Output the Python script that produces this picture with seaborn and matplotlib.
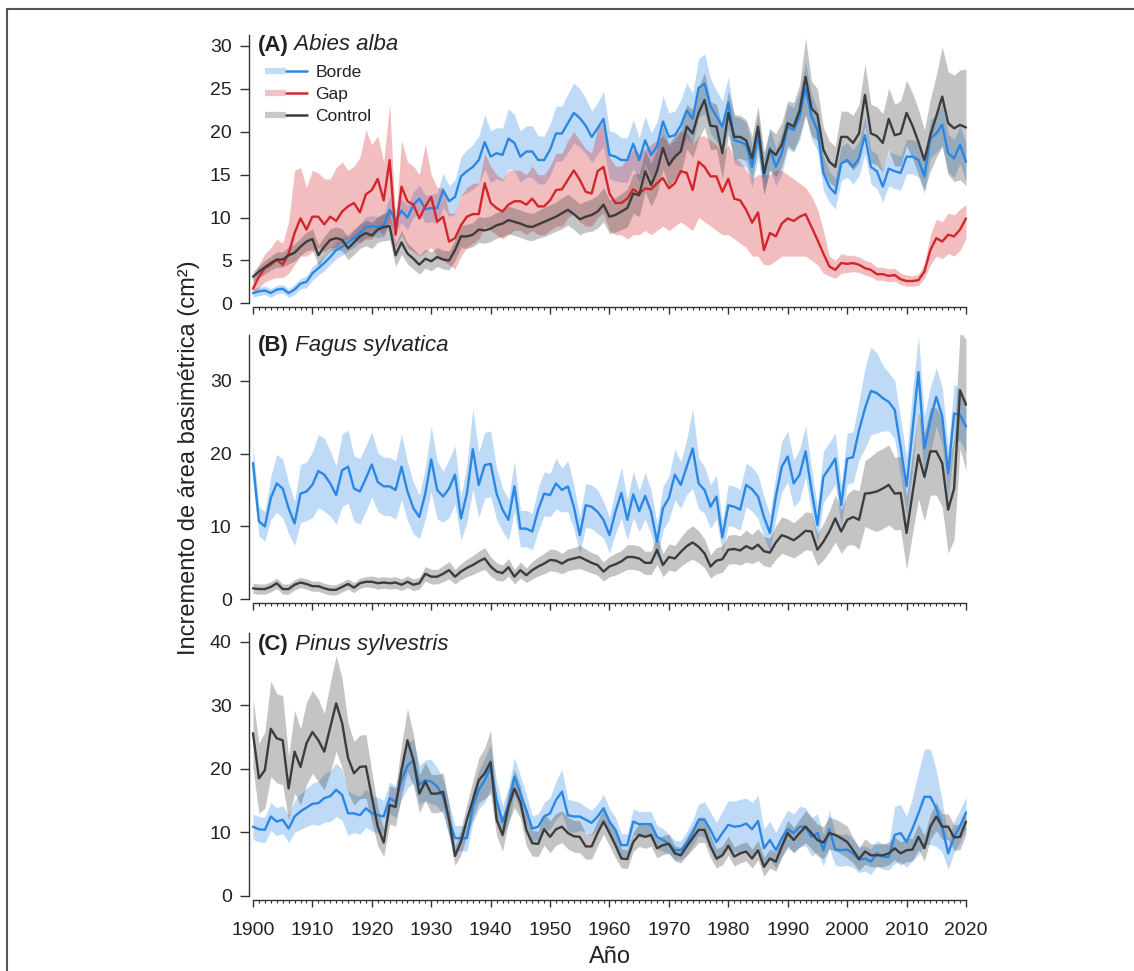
import numpy as np
import matplotlib
matplotlib.use("Agg")
import matplotlib.pyplot as plt
from matplotlib.lines import Line2D
from matplotlib.ticker import MultipleLocator
from matplotlib.legend_handler import HandlerTuple
import seaborn as sns

years = list(range(1900, 2021))

# ---------------- Panel A: Abies alba ----------------
A_borde = [1.2, 1.4, 1.5, 1.2, 1.6, 1.7, 1.2, 1.6, 2.3, 2.5,
           3.5, 4.1, 4.7, 5.4, 6.2, 6.6, 7.1, 7.6, 8.2, 8.9,
           9.0, 8.9, 9.1, 10.9, 9.6, 10.8, 10.0, 11.5, 12.2, 11.0,
           11.1, 11.1, 13.2, 11.9, 12.4, 14.8, 15.4, 15.9, 16.7, 18.8,
           17.1, 17.5, 17.3, 19.2, 18.7, 17.1, 17.7, 17.7, 16.7, 16.7,
           17.9, 19.8, 19.8, 21.0, 22.2, 21.6, 20.7, 19.4, 20.4, 21.5,
           17.3, 17.1, 16.7, 16.7, 18.6, 16.7, 19.0, 17.3, 18.3, 21.2,
           19.4, 19.6, 20.7, 22.5, 21.5, 25.1, 25.6, 23.0, 21.8, 20.6,
           23.4, 19.0, 18.8, 18.5, 15.9, 19.6, 14.8, 18.1, 15.9, 17.5,
           20.6, 20.2, 21.8, 25.1, 21.8, 20.2, 15.2, 13.6, 12.8, 16.3,
           16.7, 15.9, 16.9, 19.6, 15.9, 15.4, 13.6, 15.7, 15.4, 15.2,
           17.1, 17.1, 16.7, 14.8, 19.2, 19.8, 20.8, 17.5, 16.9, 18.5,
           16.5]
A_borde_hw = [0.5, 0.5, 0.5, 0.5, 0.5, 0.5, 0.5, 0.6, 0.6, 0.7,
              0.8, 0.8, 0.9, 0.9, 1.0, 1.0, 1.0, 1.1, 1.1, 1.2,
              1.2, 1.2, 1.3, 1.5, 1.3, 1.4, 1.4, 1.5, 1.6, 1.6,
              1.6, 1.8, 2.0, 1.8, 2.0, 2.3, 2.5, 2.6, 2.8, 3.2,
              3.0, 3.0, 3.1, 3.5, 3.3, 3.0, 3.0, 3.0, 2.8, 2.8,
              3.0, 3.2, 3.2, 3.4, 3.5, 3.4, 3.2, 3.0, 3.0, 3.2,
              2.8, 2.8, 2.6, 2.6, 2.8, 2.6, 2.8, 2.6, 2.8, 3.0,
              2.8, 2.8, 3.0, 3.2, 3.0, 3.4, 3.5, 3.2, 3.0, 3.0,
              3.0, 2.8, 2.8, 2.6, 2.4, 2.6, 2.2, 2.4, 2.2, 2.4,
              2.6, 2.6, 2.8, 3.0, 2.6, 2.4, 2.0, 1.8, 1.8, 2.0,
              2.0, 2.0, 2.0, 2.2, 2.0, 2.0, 1.8, 2.0, 2.0, 2.0,
              2.0, 2.0, 2.0, 2.0, 2.2, 2.2, 2.4, 2.2, 2.2, 2.2,
              2.2]

A_gap = [1.7, 3.1, 4.1, 4.5, 5.1, 4.5, 5.8, 8.2, 9.9, 8.6,
         10.1, 10.1, 9.2, 10.1, 9.6, 10.7, 11.3, 11.7, 10.6, 12.7,
         13.2, 14.5, 12.0, 16.7, 8.0, 13.6, 11.9, 11.5, 9.9, 11.3,
         12.4, 9.5, 10.1, 7.2, 7.6, 9.1, 10.1, 10.4, 10.4, 14.0,
         11.7, 11.1, 10.7, 11.5, 11.9, 11.9, 11.5, 12.2, 11.3, 11.3,
         12.0, 13.2, 13.3, 14.4, 15.5, 14.4, 13.0, 12.8, 15.4, 15.9,
         12.8, 11.7, 11.7, 12.2, 13.3, 12.8, 13.4, 13.3, 14.0, 14.6,
         13.4, 14.0, 15.4, 15.2, 13.2, 16.5, 15.9, 14.8, 14.8, 13.0,
         14.5, 12.2, 12.0, 10.9, 9.4, 10.6, 6.2, 8.2, 7.8, 9.3,
         9.9, 9.6, 10.1, 10.4, 8.9, 7.4, 5.8, 4.3, 3.9, 4.7,
         4.6, 4.7, 4.5, 4.1, 3.9, 3.4, 3.4, 3.2, 3.3, 2.8,
         2.6, 2.6, 2.7, 3.7, 6.2, 7.6, 7.2, 8.0, 7.8, 8.6,
         9.9]
A_gap_lo = [1.0, 1.8, 2.5, 2.8, 3.0, 3.0, 3.5, 4.5, 5.5, 5.5,
            6.0, 6.5, 6.0, 6.5, 6.5, 7.0, 7.5, 7.5, 7.0, 7.5,
            7.5, 8.5, 8.0, 9.5, 6.5, 8.0, 6.5, 6.0, 5.5, 6.0,
            6.5, 5.5, 5.0, 4.5, 4.0, 5.5, 6.5, 7.0, 7.5, 9.0,
            8.5, 8.0, 7.5, 8.0, 8.5, 8.5, 8.0, 8.5, 8.0, 8.0,
            8.5, 9.0, 9.0, 10.0, 10.5, 9.5, 9.0, 9.0, 10.0, 10.5,
            8.5, 8.0, 8.0, 7.5, 8.0, 8.0, 8.5, 8.0, 8.5, 9.0,
            8.5, 9.0, 9.5, 9.0, 8.5, 10.0, 9.5, 9.0, 8.5, 8.0,
            8.0, 7.5, 7.0, 6.5, 5.5, 5.5, 4.5, 4.5, 5.0, 5.5,
            5.5, 5.5, 5.5, 5.5, 5.0, 4.5, 3.5, 3.2, 2.9, 3.5,
            3.6, 3.7, 3.6, 3.3, 3.1, 2.7, 2.7, 2.5, 2.6, 2.2,
            2.0, 2.0, 2.1, 2.9, 4.5, 5.5, 5.2, 5.8, 5.5, 6.2,
            7.5]
A_gap_hi = [3.0, 4.5, 5.8, 6.5, 7.5, 7.0, 9.5, 15.5, 15.8, 13.5,
            15.5, 15.2, 14.5, 14.5, 15.8, 16.5, 15.5, 16.0, 17.0, 20.2,
            18.5, 19.5, 16.5, 23.3, 9.5, 19.0, 16.5, 16.0, 15.0, 18.5,
            15.0, 13.5, 13.5, 10.5, 10.5, 12.5, 13.5, 14.0, 14.0, 17.5,
            16.0, 15.0, 14.5, 15.5, 15.5, 15.5, 15.0, 16.0, 15.0, 15.0,
            16.0, 17.5, 17.5, 19.0, 20.0, 19.0, 18.0, 17.5, 20.5, 21.0,
            17.0, 16.0, 16.0, 17.0, 18.0, 17.5, 18.0, 18.5, 19.0, 19.5,
            18.5, 19.0, 20.0, 20.0, 18.5, 19.5, 19.5, 19.0, 18.5, 17.5,
            18.5, 17.0, 16.5, 15.5, 14.5, 15.0, 15.0, 15.0, 15.5, 15.5,
            15.0, 14.5, 14.0, 13.5, 12.5, 11.0, 8.5, 5.5, 5.0, 5.8,
            5.6, 5.6, 5.4, 5.0, 4.8, 4.2, 4.2, 4.0, 4.1, 3.5,
            3.3, 3.2, 3.4, 4.6, 8.0, 9.8, 9.5, 10.5, 10.3, 11.0,
            11.5]

A_control = [3.1, 3.7, 4.2, 4.7, 5.1, 5.1, 5.6, 5.9, 6.6, 7.2,
             7.5, 5.6, 6.6, 7.4, 7.6, 7.4, 6.4, 7.1, 7.8, 8.2,
             7.9, 8.6, 8.9, 9.0, 5.6, 7.1, 5.8, 5.2, 4.5, 5.2,
             4.9, 5.4, 5.1, 5.0, 6.2, 7.8, 7.8, 8.0, 8.6, 8.5,
             8.7, 9.1, 9.3, 9.7, 9.5, 9.3, 9.0, 8.9, 9.2, 9.5,
             9.8, 10.1, 10.5, 10.9, 10.4, 9.8, 10.1, 10.3, 10.7, 11.5,
             10.1, 10.3, 10.7, 11.1, 12.8, 12.6, 15.4, 13.8, 15.4, 18.1,
             16.1, 17.1, 17.7, 20.6, 19.8, 22.2, 23.7, 20.7, 20.6, 17.5,
             22.2, 19.4, 19.4, 19.0, 16.9, 20.6, 15.2, 17.9, 17.3, 18.5,
             21.0, 20.6, 22.5, 26.4, 22.7, 22.0, 17.9, 16.5, 15.9, 19.4,
             19.4, 18.7, 19.8, 24.3, 19.8, 19.5, 18.7, 21.5, 19.6, 19.8,
             22.2, 20.7, 18.8, 16.7, 19.6, 21.8, 24.1, 21.0, 20.4, 20.8,
             20.5]
A_control_hw = [0.6, 0.7, 0.8, 0.8, 0.9, 0.9, 1.0, 1.0, 1.0, 1.1,
                1.2, 1.2, 1.2, 1.3, 1.3, 1.3, 1.3, 1.4, 1.4, 1.5,
                1.5, 1.5, 1.6, 1.6, 1.3, 1.4, 1.2, 1.2, 1.1, 1.1,
                1.1, 1.1, 1.1, 1.1, 1.2, 1.3, 1.4, 1.4, 1.5, 1.5,
                1.5, 1.5, 1.5, 1.6, 1.6, 1.6, 1.6, 1.6, 1.6, 1.7,
                1.7, 1.7, 1.8, 1.8, 1.8, 1.8, 1.8, 1.9, 1.9, 2.0,
                2.0, 2.0, 2.1, 2.2, 2.3, 2.5, 2.4, 2.5, 2.6, 2.5,
                2.5, 2.5, 2.6, 2.6, 2.8, 3.0, 3.2, 2.8, 2.6, 3.0,
                2.6, 2.6, 2.5, 2.4, 2.6, 2.4, 2.4, 2.4, 2.5, 2.6,
                2.6, 2.8, 3.0, 4.5, 3.2, 3.0, 2.6, 2.4, 2.4, 3.0,
                3.0, 3.2, 3.4, 3.6, 3.4, 3.4, 3.4, 3.6, 3.6, 3.8,
                3.8, 3.8, 3.8, 3.5, 4.2, 4.8, 5.8, 6.0, 6.2, 6.4,
                6.8]

# ---------------- Panel B: Fagus sylvatica ----------------
B_borde = [18.7, 10.7, 10.0, 13.9, 15.9, 15.2, 12.5, 10.4, 14.5, 14.8,
           15.7, 17.6, 17.1, 15.9, 14.3, 17.7, 18.2, 15.2, 14.8, 16.6,
           18.5, 16.1, 15.5, 15.5, 15.0, 18.2, 14.8, 12.5, 11.3, 14.5,
           19.2, 15.0, 14.1, 15.2, 17.1, 11.1, 14.5, 20.6, 15.7, 18.4,
           18.6, 14.5, 12.3, 10.9, 15.5, 9.7, 9.7, 9.3, 12.3, 14.5,
           14.3, 15.9, 15.0, 15.5, 12.7, 8.8, 12.9, 12.7, 12.0, 10.9,
           8.8, 12.0, 14.6, 10.9, 14.4, 12.1, 14.2, 12.0, 7.9, 12.5,
           13.9, 17.1, 15.7, 18.2, 20.7, 15.9, 15.0, 12.7, 14.1, 8.5,
           12.9, 12.7, 12.3, 15.7, 15.1, 14.1, 11.3, 9.1, 14.1, 18.2,
           19.6, 15.9, 17.1, 20.3, 15.0, 10.2, 16.8, 18.0, 19.3, 12.9,
           19.3, 19.5, 23.2, 26.2, 28.6, 28.3, 27.6, 27.1, 26.0, 20.9,
           15.5, 23.2, 31.2, 20.7, 24.6, 27.8, 25.1, 17.3, 25.5, 25.3,
           23.7]
B_borde_hw = [2.5, 2.0, 2.0, 3.0, 4.0, 4.0, 3.5, 3.0, 4.0, 4.0,
              4.5, 5.0, 5.0, 4.5, 4.0, 5.0, 5.0, 4.5, 4.5, 4.5,
              4.5, 4.0, 4.0, 4.0, 4.0, 4.5, 4.0, 3.5, 3.0, 3.5,
              4.5, 4.0, 3.5, 4.0, 4.0, 3.0, 4.0, 5.5, 4.5, 4.5,
              4.5, 3.5, 3.0, 2.8, 3.5, 2.5, 2.5, 2.5, 3.0, 3.0,
              3.0, 3.5, 3.0, 3.5, 3.0, 2.5, 3.0, 3.0, 3.0, 2.5,
              2.5, 3.0, 3.5, 2.8, 3.2, 2.8, 3.2, 3.0, 2.5, 3.0,
              3.0, 3.5, 3.2, 3.8, 5.5, 3.5, 3.2, 3.0, 3.0, 2.2,
              2.8, 2.8, 2.8, 3.0, 3.0, 3.0, 2.8, 2.5, 3.0, 3.5,
              3.5, 3.2, 3.5, 3.5, 3.0, 2.5, 3.5, 3.5, 3.5, 2.8,
              3.5, 3.5, 4.0, 5.5, 6.0, 5.5, 4.5, 4.0, 4.0, 4.0,
              4.0, 5.5, 5.0, 4.5, 4.5, 4.0, 4.0, 3.5, 4.0, 3.5,
              3.5]

B_control = [1.5, 1.4, 1.4, 1.7, 2.2, 1.4, 1.4, 2.0, 2.3, 2.1,
             1.8, 1.8, 1.5, 1.3, 1.3, 1.7, 2.1, 1.6, 2.2, 2.4,
             2.4, 2.2, 2.3, 2.2, 2.3, 2.0, 2.4, 2.0, 2.2, 3.5,
             3.1, 3.1, 3.5, 4.0, 3.1, 3.8, 4.3, 4.7, 5.2, 5.6,
             4.5, 3.8, 3.6, 4.4, 3.1, 4.0, 3.3, 4.0, 4.5, 4.9,
             5.4, 5.3, 4.9, 5.4, 5.6, 5.8, 5.4, 5.0, 4.7, 3.8,
             4.5, 4.8, 5.2, 5.8, 5.8, 5.6, 5.0, 5.0, 6.8, 4.7,
             5.8, 5.6, 6.5, 7.3, 7.8, 7.2, 6.3, 4.5, 5.3, 5.5,
             6.8, 6.9, 6.7, 7.3, 6.9, 7.5, 6.6, 6.4, 7.8, 8.8,
             8.5, 8.1, 8.7, 9.4, 9.3, 6.8, 7.9, 9.3, 11.1, 9.3,
             10.9, 11.3, 10.9, 14.5, 14.6, 14.8, 15.2, 15.7, 14.5, 14.6,
             9.1, 14.5, 19.8, 16.8, 20.3, 20.3, 18.7, 12.3, 15.2, 28.7,
             26.7]
B_control_hw = [0.7, 0.7, 0.7, 0.7, 0.7, 0.7, 0.7, 0.7, 0.7, 0.7,
                0.7, 0.7, 0.7, 0.7, 0.7, 0.7, 0.7, 0.7, 0.7, 0.7,
                0.8, 0.8, 0.8, 0.8, 0.8, 0.8, 0.8, 0.8, 0.8, 1.0,
                1.0, 1.0, 1.1, 1.2, 1.0, 1.1, 1.2, 1.3, 1.4, 1.5,
                1.3, 1.2, 1.1, 1.2, 1.0, 1.1, 1.0, 1.2, 1.3, 1.4,
                1.5, 1.5, 1.4, 1.5, 1.5, 1.6, 1.5, 1.4, 1.4, 1.3,
                1.4, 1.5, 1.5, 1.7, 1.7, 1.7, 1.6, 1.6, 2.0, 1.6,
                1.8, 1.8, 2.0, 2.2, 2.3, 2.2, 2.0, 1.6, 1.8, 1.8,
                2.0, 2.0, 2.0, 2.2, 2.0, 2.2, 2.0, 2.0, 2.3, 2.5,
                2.5, 2.4, 2.5, 2.6, 2.6, 2.2, 2.5, 2.8, 3.2, 3.0,
                3.5, 3.8, 4.0, 4.5, 5.0, 5.5, 5.5, 5.5, 5.0, 5.0,
                5.0, 5.5, 6.0, 6.0, 6.0, 6.0, 6.0, 6.0, 7.0, 8.0,
                9.0]

# ---------------- Panel C: Pinus sylvestris ----------------
C_borde = [10.9, 10.5, 10.4, 12.5, 11.7, 12.0, 10.6, 12.5, 13.3, 13.9,
           14.5, 14.6, 15.4, 15.7, 16.7, 15.9, 13.0, 13.0, 12.7, 13.8,
           13.0, 12.7, 12.5, 15.4, 14.8, 18.2, 20.5, 21.3, 17.5, 18.2,
           18.0, 17.2, 15.6, 12.0, 9.1, 9.1, 9.1, 14.0, 16.7, 18.2,
           20.3, 15.1, 11.7, 14.3, 18.8, 16.1, 13.5, 10.6, 10.9, 12.5,
           13.0, 15.1, 16.4, 12.7, 12.5, 12.5, 12.0, 11.5, 12.5, 13.8,
           11.7, 10.4, 8.0, 8.0, 11.7, 11.3, 11.3, 11.3, 9.3, 8.8,
           8.2, 7.2, 7.2, 8.3, 9.9, 12.0, 12.0, 10.4, 8.5, 9.9,
           11.2, 10.9, 11.0, 11.4, 10.5, 11.8, 7.5, 8.8, 7.2, 9.1,
           10.5, 9.9, 10.9, 10.9, 9.3, 9.9, 7.2, 10.5, 7.3, 7.2,
           7.3, 6.7, 5.7, 5.9, 5.4, 6.7, 6.2, 6.1, 9.6, 9.9,
           8.5, 10.6, 13.0, 15.6, 15.6, 13.8, 10.9, 6.7, 9.3, 11.0,
           13.1]
C_borde_hw = [2.0, 2.0, 2.0, 2.2, 2.2, 2.2, 2.2, 2.5, 2.8, 3.0,
              3.2, 3.5, 3.8, 4.0, 4.2, 4.0, 3.5, 3.0, 3.0, 3.0,
              2.8, 2.8, 2.5, 2.5, 2.5, 3.0, 3.5, 3.5, 3.0, 3.2,
              3.5, 3.0, 2.8, 2.5, 2.0, 2.0, 2.0, 2.5, 3.0, 3.5,
              3.5, 3.0, 2.5, 2.8, 3.0, 2.8, 2.5, 2.0, 2.0, 2.2,
              2.5, 3.0, 3.5, 2.5, 2.5, 2.2, 2.0, 2.0, 2.0, 2.2,
              2.0, 2.0, 1.8, 1.8, 2.0, 2.0, 2.0, 2.0, 1.8, 1.8,
              1.5, 1.5, 1.5, 1.8, 2.0, 2.5, 2.8, 2.8, 3.0, 3.5,
              3.8, 4.0, 4.2, 4.0, 4.2, 4.0, 3.0, 3.0, 2.8, 2.8,
              3.0, 3.0, 3.2, 3.0, 3.0, 3.0, 2.5, 3.0, 2.5, 2.5,
              2.5, 2.2, 2.0, 2.0, 2.0, 2.0, 2.0, 2.0, 4.5, 4.5,
              4.0, 5.0, 6.5, 7.5, 7.5, 6.0, 4.0, 2.5, 2.5, 2.5,
              2.5]

C_control = [25.6, 18.5, 19.8, 26.3, 24.8, 24.5, 16.9, 22.7, 20.3, 24.0,
             25.8, 24.5, 22.7, 26.5, 30.3, 27.2, 21.7, 19.3, 20.3, 20.4,
             15.6, 10.9, 8.4, 14.3, 14.0, 19.8, 24.5, 21.4, 16.1, 18.0,
             16.1, 16.1, 16.4, 12.0, 6.3, 8.5, 12.0, 15.1, 18.2, 19.3,
             21.1, 12.0, 9.6, 14.0, 16.9, 14.8, 10.4, 8.3, 8.2, 10.5,
             9.3, 10.5, 10.9, 9.9, 9.4, 9.3, 7.8, 7.8, 9.9, 11.7,
             9.9, 8.0, 5.9, 5.8, 8.5, 9.6, 9.3, 9.6, 7.5, 8.0,
             8.2, 6.7, 6.4, 7.8, 9.1, 10.4, 10.4, 7.8, 5.9, 6.4,
             7.9, 6.2, 6.7, 7.0, 5.9, 7.2, 4.6, 5.9, 5.4, 7.8,
             9.9, 8.8, 9.9, 10.9, 9.9, 8.8, 8.4, 9.9, 9.6, 9.1,
             8.5, 7.2, 5.8, 7.0, 6.4, 6.4, 6.4, 6.7, 7.5, 6.7,
             7.2, 7.3, 9.3, 7.5, 10.9, 12.5, 10.9, 10.9, 9.2, 9.3,
             11.7]
C_control_hw = [5.5, 5.5, 6.0, 7.5, 7.0, 7.0, 5.0, 6.5, 6.0, 6.5,
                6.5, 6.5, 6.0, 7.0, 7.5, 7.0, 5.5, 5.0, 5.0, 5.0,
                4.0, 3.0, 2.2, 3.0, 3.0, 4.0, 5.0, 4.0, 3.0, 3.0,
                3.0, 3.0, 3.0, 2.5, 1.5, 2.0, 2.5, 3.0, 3.5, 4.0,
                5.0, 2.5, 2.5, 2.5, 3.0, 2.5, 2.5, 2.0, 2.0, 2.5,
                2.5, 2.5, 2.5, 2.5, 2.5, 2.5, 2.0, 2.0, 2.0, 2.0,
                2.0, 2.0, 1.5, 1.5, 1.5, 1.8, 1.8, 1.8, 1.5, 1.5,
                1.5, 1.2, 1.2, 1.5, 1.8, 2.0, 2.0, 1.8, 1.5, 1.5,
                1.5, 1.5, 1.5, 1.5, 1.5, 1.5, 1.5, 1.5, 1.5, 1.8,
                2.0, 2.0, 2.2, 2.5, 2.5, 2.5, 2.5, 2.5, 2.5, 2.5,
                2.5, 2.0, 1.8, 2.0, 1.8, 1.8, 1.8, 1.8, 1.8, 1.8,
                1.8, 1.8, 2.0, 2.0, 2.0, 2.2, 2.0, 2.0, 2.0, 2.0,
                2.0]

series_labels = ["Borde", "Gap", "Control"]
panel_tags = ["(A)", "(B)", "(C)"]
panel_species = ["Abies alba", "Fagus sylvatica", "Pinus sylvestris"]
y_ticks = [[0, 5, 10, 15, 20, 25, 30], [0, 10, 20, 30], [0, 10, 20, 30, 40]]
y_label = "Incremento de área basimétrica (cm²)"
x_label = "Año"

# ---------------- styling ----------------
sns.set_style("ticks")
plt.rcParams["font.family"] = ["Liberation Sans", "DejaVu Sans"]
TXT = "#222222"
AX = "#333333"
COL = {"Borde": "#2A87E3", "Gap": "#D3262C", "Control": "#3C3C3C"}
FILL_ALPHA = {"Borde": 0.30, "Gap": 0.30, "Control": 0.30}

W, H = 1134, 971
fig = plt.figure(figsize=(W / 100, H / 100), dpi=100)

def fx(px):
    return px / W

def fy(py):
    return 1 - py / H

left_px, right_px = 249, 968
panel_geo = [(34.8, 307.2, (-0.45, 31.3)),
             (334.8, 602.7, (-0.47, 36.3)),
             (633.4, 900.0, (-0.63, 41.3))]
xlim = (1899.33, 2020.34)

def band(mean, hw):
    m = np.array(mean)
    h = np.array(hw)
    return m - h, m + h

panels = [
    [("Borde", A_borde, *band(A_borde, A_borde_hw)),
     ("Gap", A_gap, A_gap_lo, A_gap_hi),
     ("Control", A_control, *band(A_control, A_control_hw))],
    [("Borde", B_borde, *band(B_borde, B_borde_hw)),
     ("Control", B_control, *band(B_control, B_control_hw))],
    [("Borde", C_borde, *band(C_borde, C_borde_hw)),
     ("Control", C_control, *band(C_control, C_control_hw))],
]

title_y_px = [45, 345, 644]
axes = []
for i, (geo, plist) in enumerate(zip(panel_geo, panels)):
    top_px, bot_px, ylim = geo
    ax = fig.add_axes([fx(left_px), fy(bot_px), fx(right_px - left_px), (bot_px - top_px) / H])
    axes.append(ax)
    for name, mean, lo, hi in plist:
        ax.fill_between(years, np.clip(lo, 0, None), hi, color=COL[name],
                        alpha=FILL_ALPHA[name], linewidth=0, zorder=1)
    for name, mean, lo, hi in plist:
        sns.lineplot(x=years, y=mean, ax=ax, color=COL[name], linewidth=1.7,
                     legend=False, zorder=3)
    ax.set_xlim(*xlim)
    ax.set_ylim(*ylim)
    ax.set_yticks(y_ticks[i])
    ax.xaxis.set_major_locator(MultipleLocator(10))
    ax.xaxis.set_minor_locator(MultipleLocator(1))
    for s in ["top", "right"]:
        ax.spines[s].set_visible(False)
    ax.spines["left"].set_bounds(0, ylim[1])
    ax.spines["bottom"].set_bounds(1900, 2020)
    for s in ["left", "bottom"]:
        ax.spines[s].set_color(AX)
        ax.spines[s].set_linewidth(1.0)
    ax.tick_params(axis="y", direction="out", length=6.5, width=1.0, color=AX,
                   labelsize=14, labelcolor=TXT, pad=6)
    ax.tick_params(axis="x", which="major", direction="out", length=5, width=1.0,
                   color=AX, labelsize=14, labelcolor=TXT, pad=10.5)
    ax.tick_params(axis="x", which="minor", direction="out", length=2.4, width=0.8,
                   color=AX)
    ax.set_xlabel("")
    ax.set_ylabel("")
    if i < 2:
        ax.tick_params(axis="x", labelbottom=False)
    ax.patch.set_alpha(0)
    t1 = fig.text(fx(258), fy(title_y_px[i]), panel_tags[i], ha="left", va="center",
                  fontsize=16, fontweight="bold", color=TXT)
    ax.annotate(" " + panel_species[i], xy=(1, 0), xycoords=t1, ha="left", va="bottom",
                fontsize=16, fontstyle="italic", color=TXT, annotation_clip=False)

# legend in panel A
handles = []
for name in series_labels:
    glow = Line2D([], [], color=COL[name], alpha=0.28, linewidth=4.5, solid_capstyle="butt")
    line = Line2D([], [], color=COL[name], linewidth=1.8)
    handles.append((glow, line))
fig.legend(handles, series_labels, loc="upper left",
           bbox_to_anchor=(fx(265), fy(65)), bbox_transform=fig.transFigure,
           frameon=False, fontsize=12.5, handlelength=2.4, handletextpad=0.5,
           labelspacing=0.38, borderpad=0, borderaxespad=0,
           handler_map={tuple: HandlerTuple(ndivide=None, pad=0)},
           labelcolor=TXT)

fig.text(fx(189), fy(458), y_label, rotation=90, ha="center", va="center",
         fontsize=17, color=TXT)
fig.text(fx(610), fy(957), x_label, ha="center", va="center", fontsize=17, color=TXT)

# outer frame (top and left edges)
fig.add_artist(Line2D([fx(7), 1], [fy(9), fy(9)], transform=fig.transFigure,
                      color="#555555", linewidth=1.5))
fig.add_artist(Line2D([fx(7), fx(7)], [fy(9), 0], transform=fig.transFigure,
                      color="#555555", linewidth=1.5))

fig.savefig("out.png", dpi=100)
